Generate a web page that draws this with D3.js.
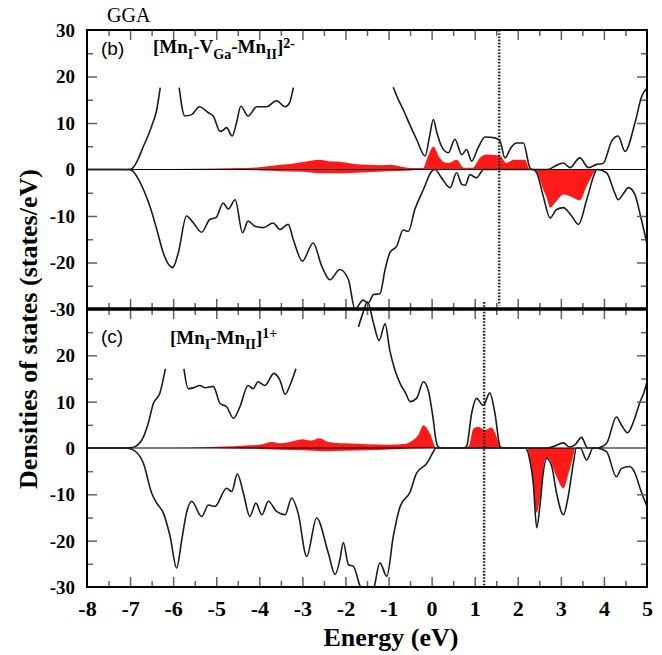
<!DOCTYPE html>
<html>
<head>
<meta charset="utf-8">
<script src="https://cdn.jsdelivr.net/npm/d3@7"></script>
<style>
    html, body { margin: 0; padding: 0; background: #fff; }
    svg { display: block; }
    .curve { fill: none; stroke: #1c1c1c; stroke-width: 1.6; stroke-linejoin: round; }
    .red { fill: #ff1a1a; stroke: none; }
    .zero { stroke: #000; stroke-width: 1.2; }
    .frame { fill: none; stroke: #000; stroke-width: 2; }
    .divider { stroke: #000; stroke-width: 3.5; }
    .dotted { stroke: #222; stroke-width: 2.4; stroke-dasharray: 1.6, 1.6; }
    .ticks .tick line { stroke: #56636d; stroke-width: 1.5; }
    .ticks .domain, .labels .domain { display: none; }
    .ylabels text { font: bold 19px "Liberation Serif", serif; fill: #000; }
    .xlabels text { font: bold 22px "Liberation Serif", serif; fill: #000; }
    .title { font: bold 26px "Liberation Serif", serif; fill: #000; }
    .panel-id { font: 19px "Liberation Sans", sans-serif; fill: #000; }
    .formula { font: bold 19px "Liberation Serif", serif; fill: #000; }
    .gga { font: 20px "Liberation Serif", serif; fill: #000; }
</style>
</head>
<body>
<div id="chart"></div>
<script>
/**** DATA ****/

// energy axis (eV)
var energyTicks = [-8, -7, -6, -5, -4, -3, -2, -1, 0, 1, 2, 3, 4, 5];
var dosTicksB = [30, 20, 10, 0, -10, -20, -30];
var dosTicksC = [20, 10, 0, -10, -20, -30];

// dotted marker positions (eV)
var dottedB = 1.57;
var dottedC = 1.22;

// panel (b): total DOS, spin up / spin down, [energy, states/eV]; null = hidden behind label
var bUp = [[-8, 0], [-7.2, 0], [-7.0, 0.05], [-6.93, 0.4], [-6.8, 2.5], [-6.69, 5.0], [-6.58, 7.3],
    [-6.5, 9.3], [-6.38, 12.9], [-6.3, 17.6], [-6.1, null],
    [-5.86, 17.6], [-5.73, 11.5], [-5.57, 11.8], [-5.39, 13.5], [-5.18, 12.2], [-5.07, 11.5],
    [-4.91, 8.2], [-4.82, 8.6], [-4.76, 9.0], [-4.63, 7.2], [-4.53, 10.0], [-4.43, 13.6],
    [-4.26, 11.5], [-4.06, 13.5], [-3.83, 13.5], [-3.6, 14.8], [-3.4, 13.5], [-3.3, 14.3],
    [-3.21, 17.6], [-2, null],
    [-0.89, 17.7], [-0.78, 15.2], [-0.66, 12.9], [-0.5, 9.5], [-0.35, 6.5], [-0.15, 2.9],
    [-0.05, 7.0], [0.04, 10.75], [0.12, 8.0], [0.23, 5.0], [0.39, 3.6], [0.54, 6.5], [0.7, 3.2],
    [0.81, 4.3], [0.93, 1.8], [1.08, 4.7], [1.24, 7.0], [1.47, 6.8], [1.59, 6.1], [1.7, 2.5],
    [1.85, 4.8], [1.97, 5.7], [2.13, 5.7], [2.28, 0.4], [2.33, 0], [2.7, 0], [2.86, 0.7],
    [3.06, 1.4], [3.21, 0.4], [3.44, 2.5], [3.64, 0.4], [3.83, 1.1], [3.98, 1.3], [4.18, 6.1],
    [4.33, 7.2], [4.49, 3.9], [4.72, 10], [4.88, 15.8], [5, 17.5]];
var bDn = [[-8, 0], [-7.2, 0], [-7.0, -0.05], [-6.93, -0.4], [-6.8, -2.2], [-6.69, -4.3],
    [-6.54, -7.9], [-6.38, -12.9], [-6.23, -17.9], [-6.1, -20.5], [-6.01, -21.1], [-5.88, -17.9],
    [-5.69, -10], [-5.53, -11.5], [-5.34, -13.5], [-5.15, -10.75], [-5.0, -10.3], [-4.84, -7.2],
    [-4.72, -8.5], [-4.56, -6.5], [-4.39, -13.6], [-4.26, -11.1], [-4.1, -12.2], [-3.91, -12.5],
    [-3.68, -11.5], [-3.52, -12.9], [-3.33, -11.8], [-3.21, -15.1], [-3.0, -19.7], [-2.75, -15.8],
    [-2.55, -20.8], [-2.36, -23.7], [-2.13, -21.5], [-1.93, -23.7], [-1.78, -30], [-1.59, -28.1],
    [-1.47, -28.7], [-1.35, -26.9], [-1.2, -26.7], [-1.08, -21.5], [-0.97, -17.9], [-0.81, -16.5],
    [-0.66, -13.0], [-0.54, -13.3], [-0.39, -8.6], [-0.19, -4.3], [0.0, -0.4], [0.08, 0],
    [0.23, -1.8], [0.43, -3.9], [0.58, -0.7], [0.7, -3.2], [0.78, -3.4], [0.89, -1.1],
    [1.04, -1.8], [1.16, -0.4], [1.2, 0], [2.35, 0], [2.44, -0.7], [2.59, -5.7], [2.75, -10.4],
    [2.9, -8.6], [3.06, -8.2], [3.25, -10], [3.41, -11.8], [3.6, -6.5], [3.79, -0.7], [3.83, 0],
    [4.06, -0.7], [4.25, -5], [4.33, -6.5], [4.45, -5.2], [4.57, -3.9], [4.72, -5.4],
    [4.85, -10], [5, -16]];
// panel (b): Mn partial DOS (red)
var bUpRed = [[-6.5, 0], [-6.0, 0.1], [-5.0, 0.2], [-4.5, 0.3], [-4.0, 0.5], [-3.5, 1.0],
    [-3.2, 1.3], [-3.0, 1.6], [-2.8, 1.9], [-2.6, 2.1], [-2.4, 1.8], [-2.2, 1.7], [-2.0, 1.5],
    [-1.8, 1.2], [-1.5, 1.0], [-1.2, 0.9], [-0.97, 1.0], [-0.7, 0.6], [-0.4, 0.3], [-0.2, 0.3],
    [-0.1, 2.5], [0.04, 4.9], [0.19, 2.5], [0.31, 1.5], [0.39, 1.4], [0.58, 2.1], [0.75, 0.4],
    [0.95, 0.4], [1.12, 2.5], [1.28, 3.2], [1.45, 3.1], [1.59, 2.9], [1.74, 1.4], [1.9, 2.1],
    [2.17, 2.1], [2.28, 0], [2.4, 0]];
var bDnRed = [[-5, 0], [-4, -0.2], [-3.5, -0.35], [-3, -0.5], [-2.6, -0.8], [-2.0, -0.8],
    [-1.5, -0.6], [-1.0, -0.4], [-0.5, -0.2], [-0.2, 0], [2.38, 0], [2.44, -0.4], [2.59, -4.3],
    [2.67, -6], [2.75, -8.2], [2.9, -6.8], [3.06, -5.4], [3.25, -5.9], [3.44, -6.6],
    [3.6, -3.6], [3.79, -0.4], [3.83, 0]];

// panel (c): total DOS
var cUp = [[-8, 0], [-7.1, 0], [-6.95, 0.1], [-6.88, 0.3], [-6.69, 2.4], [-6.58, 5.3],
    [-6.46, 9.6], [-6.31, 11.8], [-6.18, 17.1], [-6.0, null],
    [-5.75, 17.1], [-5.65, 12.8], [-5.53, 13.0], [-5.38, 13.5], [-5.25, 13.0], [-5.07, 13.3],
    [-4.91, 9.6], [-4.76, 8.9], [-4.6, 6.4], [-4.45, 8.9], [-4.26, 13.5], [-4.14, 12.8],
    [-4.03, 14.3], [-3.87, 13.5], [-3.66, 16.1], [-3.52, 14.6], [-3.4, 11.6], [-3.29, 13.5],
    [-3.15, 17.1], [-2.5, null],
    [-1.70, 26.1], [-1.6, 29], [-1.49, 31.5], [-1.35, 27], [-1.22, 23.2], [-1.08, 26.8],
    [-0.97, 21], [-0.85, 16.8], [-0.73, 13.9], [-0.6, 11.8], [-0.5, 10], [-0.35, 10.7],
    [-0.19, 14.3], [-0.08, 12.5], [0.04, 6], [0.1, 1.7], [0.15, 0.3], [0.2, 0], [0.75, 0],
    [0.81, 0.3], [0.93, 7.5], [1.04, 10.7], [1.2, 9.2], [1.35, 11.9], [1.47, 7.5], [1.59, 0.3],
    [1.65, 0], [2.7, 0], [2.82, 0.3], [3.06, 1.1], [3.2, 0.2], [3.34, 0.8], [3.48, 2.3],
    [3.62, 0], [3.83, 0], [4.06, 1.0], [4.29, 6.7], [4.41, 4.9], [4.55, 3.3], [4.7, 6],
    [4.84, 10], [4.93, 12], [5, 14.3]];
var cDn = [[-8, 0], [-7.1, 0], [-6.93, -0.4], [-6.69, -3.3], [-6.5, -9.7], [-6.38, -11.9],
    [-6.23, -14], [-6.07, -19.1], [-5.92, -25.9], [-5.8, -19.8], [-5.69, -14], [-5.57, -11.5],
    [-5.34, -14.8], [-5.18, -12.3], [-5.03, -12.6], [-4.76, -8.7], [-4.64, -9.4], [-4.51, -5.6],
    [-4.37, -9.7], [-4.22, -14.8], [-4.08, -11.9], [-3.94, -14.4], [-3.79, -11.5], [-3.6, -13.7],
    [-3.4, -14.4], [-3.25, -10.8], [-3.1, -14], [-2.9, -23.4], [-2.67, -15.1], [-2.4, -22.6],
    [-2.24, -27.3], [-2.13, -24.1], [-2.05, -20.4], [-1.93, -25.2], [-1.82, -25.5],
    [-1.66, -29.8], [-1.5, -32], [-1.35, -30.5], [-1.2, -24.8], [-1.04, -27.7], [-0.89, -19.1],
    [-0.73, -12.6], [-0.5, -9.5], [-0.35, -5.4], [-0.11, -3.3], [0.04, -0.8], [0.1, 0],
    [2.17, 0], [2.28, -2.6], [2.36, -7.6], [2.44, -17.2], [2.52, -11.9], [2.59, -5.4],
    [2.67, -2.2], [2.79, -4], [2.9, -9.7], [3.06, -14.4], [3.17, -10.5], [3.29, -3.3],
    [3.36, 0], [3.45, 0], [3.6, -2.6], [3.75, 0], [3.83, 0], [4.06, -0.8], [4.29, -6.2],
    [4.41, -4.4], [4.6, -4], [4.72, -5.4], [4.85, -9], [5, -12.6]];
var cUpRed = [[-6, 0], [-5.5, 0.1], [-4.8, 0.3], [-4.4, 0.5], [-4.0, 0.7], [-3.7, 1.3],
    [-3.5, 1.0], [-3.2, 1.5], [-3.0, 1.9], [-2.8, 1.6], [-2.6, 2.1], [-2.4, 1.3], [-2.0, 1.0],
    [-1.5, 0.8], [-1.0, 0.7], [-0.6, 0.9], [-0.43, 1.7], [-0.31, 2.8], [-0.19, 4.9],
    [-0.04, 3.2], [0.11, 0], [0.83, 0], [0.88, 0.8], [0.97, 4.2], [1.08, 4.6], [1.24, 3.9],
    [1.39, 4.4], [1.51, 2.4], [1.6, 0]];
var cDnRed = [[-5, 0], [-4, -0.2], [-3, -0.5], [-2.5, -0.7], [-2, -0.6], [-1.5, -0.5],
    [-1, -0.3], [-0.5, -0.1], [0, 0], [2.2, 0], [2.32, -4.7], [2.44, -14], [2.52, -10.5],
    [2.63, -2.6], [2.71, -2.2], [2.9, -6.2], [3.06, -8.7], [3.17, -5.8], [3.33, 0]];

/**** LAYOUT ****/

var width = 662;
var height = 655;
var left = 87, right = 647;
var topB = 30, mid = 309, bottomC = 587;

var svg = d3.select("#chart").append("svg")
    .attr("width", width)
    .attr("height", height);

var x = d3.scaleLinear().domain([-8, 5]).range([left, right]);
var yB = d3.scaleLinear().domain([-30, 30]).range([mid, topB]);
var yC = d3.scaleLinear().domain([-30, 30]).range([bottomC, mid]);

var panels = [
    {y: yB, top: topB, bottom: mid, up: bUp, dn: bDn, upRed: bUpRed, dnRed: bDnRed,
        dotted: dottedB, dotSpan: [30, -29.3], ticks: dosTicksB},
    {y: yC, top: mid, bottom: bottomC, up: cUp, dn: cDn, upRed: cUpRed, dnRed: cDnRed,
        dotted: dottedC, dotSpan: [31.5, -30], ticks: dosTicksC}
];

svg.append("clipPath").attr("id", "plot-clip")
    .append("rect")
    .attr("x", left).attr("y", topB)
    .attr("width", right - left).attr("height", bottomC - topB);

var majorX = d3.range(-7, 5);
var minorX = d3.range(-7.5, 5, 1);
var majorY = [20, 10, -10, -20];
var minorY = [25, 15, 5, -5, -15, -25];

/**** PANELS ****/

panels.forEach(function(p) {
    var g = svg.append("g").attr("clip-path", "url(#plot-clip)");

    // monotone curve so flat stretches stay flat
    var area = d3.area()
        .curve(d3.curveMonotoneX)
        .x(function(d) { return x(d[0]); })
        .y0(p.y(0))
        .y1(function(d) { return p.y(d[1]); });

    var line = d3.line()
        .defined(function(d) { return d[1] !== null; })
        .curve(d3.curveMonotoneX)
        .x(function(d) { return x(d[0]); })
        .y(function(d) { return p.y(d[1]); });

    // partial DOS fills
    g.selectAll("path.red")
        .data([p.upRed, p.dnRed])
        .enter().append("path")
        .attr("class", "red")
        .attr("d", area);

    // zero line
    g.append("line")
        .attr("class", "zero")
        .attr("x1", left).attr("x2", right)
        .attr("y1", p.y(0)).attr("y2", p.y(0));

    // total DOS curves
    g.selectAll("path.curve")
        .data([p.up, p.dn])
        .enter().append("path")
        .attr("class", "curve")
        .attr("d", line);

    // dotted marker
    svg.append("line")
        .attr("class", "dotted")
        .attr("x1", x(p.dotted)).attr("x2", x(p.dotted))
        .attr("y1", p.y(p.dotSpan[0]))
        .attr("y2", p.y(p.dotSpan[1]));

    // inward ticks on all four sides
    var tickAxes = [
        [d3.axisBottom(x), p.top, majorX, minorX, true],
        [d3.axisTop(x), p.bottom, majorX, minorX, true],
        [d3.axisRight(p.y), left, majorY, minorY, false],
        [d3.axisLeft(p.y), right, majorY, minorY, false]
    ];
    tickAxes.forEach(function(t) {
        [[t[2], 10], [t[3], 6]].forEach(function(set) {
            var axis = t[0].tickValues(set[0]).tickSize(set[1]).tickFormat("");
            svg.append("g")
                .attr("class", "ticks")
                .attr("transform", t[4] ? "translate(0," + t[1] + ")" : "translate(" + t[1] + ",0)")
                .call(axis);
        });
    });

    // frame
    svg.append("rect")
        .attr("class", "frame")
        .attr("x", left).attr("y", p.top)
        .attr("width", right - left).attr("height", p.bottom - p.top);

    // y tick labels
    svg.append("g")
        .attr("class", "labels ylabels")
        .attr("transform", "translate(" + left + ",0)")
        .call(d3.axisLeft(p.y).tickValues(p.ticks).tickSize(0).tickPadding(12)
            .tickFormat(function(d) { return String(d); }))
        .selectAll("text").attr("dy", "0.34em");
});

svg.append("line")
    .attr("class", "divider")
    .attr("x1", left).attr("x2", right)
    .attr("y1", mid).attr("y2", mid);

// x tick labels
svg.append("g")
    .attr("class", "labels xlabels")
    .attr("transform", "translate(0," + bottomC + ")")
    .call(d3.axisBottom(x).tickValues(energyTicks).tickSize(0).tickPadding(13)
        .tickFormat(function(d) { return String(d); }));

/**** TEXT ****/

svg.append("text").attr("class", "gga").attr("x", 107).attr("y", 22).text("GGA");

svg.append("text").attr("class", "title")
    .attr("x", 391).attr("y", 646)
    .attr("text-anchor", "middle")
    .text("Energy (eV)");

svg.append("text").attr("class", "title")
    .attr("transform", "translate(37,329) rotate(-90)")
    .attr("text-anchor", "middle")
    .text("Densities of states (states/eV)");

svg.append("text").attr("class", "panel-id").attr("x", 101).attr("y", 55).text("(b)");
svg.append("text").attr("class", "panel-id").attr("x", 101).attr("y", 343).text("(c)");

// formula labels: [text, font-size, dy]
function formula(xPos, yPos, parts) {
    var t = svg.append("text").attr("class", "formula").attr("x", xPos).attr("y", yPos);
    parts.forEach(function(part) {
        t.append("tspan")
            .attr("font-size", part[1])
            .attr("dy", part[2])
            .text(part[0]);
    });
}

formula(153, 53, [["[Mn", 19, 0], ["I", 14, 6], ["-V", 19, -6], ["Ga", 14, 6], ["-Mn", 19, -6],
    ["II", 14, 6], ["]", 19, -6], ["2-", 14, -5]]);
formula(170, 344, [["[Mn", 19, 0], ["I", 14, 5], ["-Mn", 19, -5], ["II", 14, 5], ["]", 19, -5],
    ["1+", 14, -6]]);
</script>
</body>
</html>
